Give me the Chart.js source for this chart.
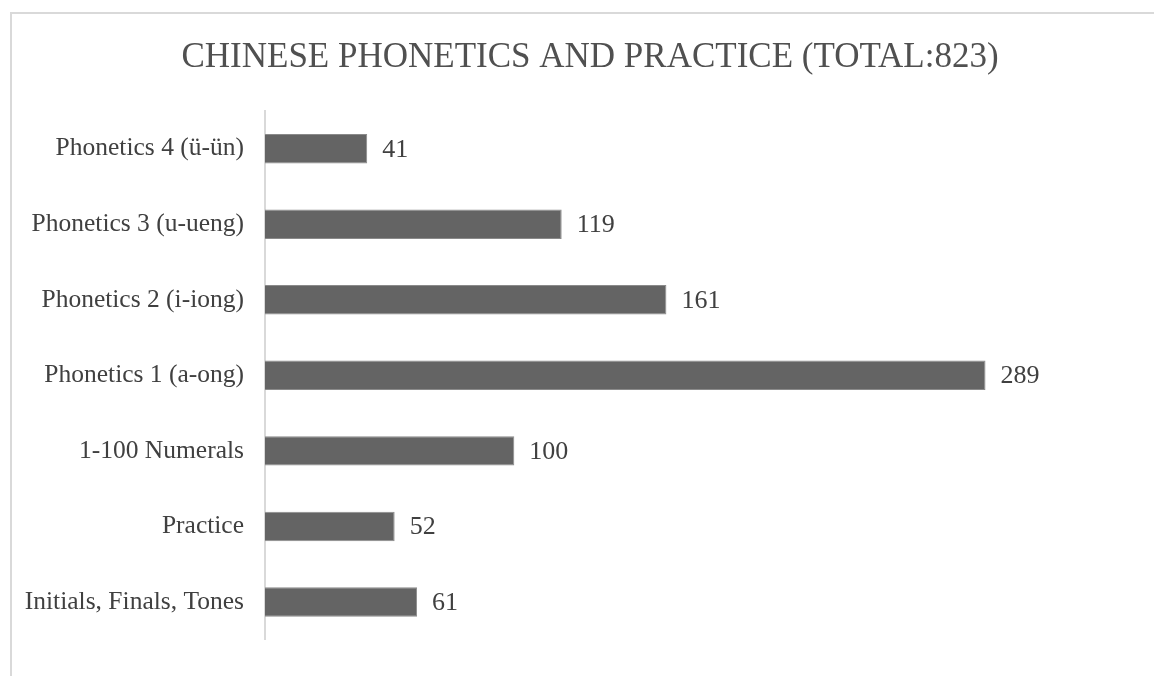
<!DOCTYPE html>
<html>
<head>
<meta charset="utf-8">
<script src="https://cdn.jsdelivr.net/npm/chart.js@4.4.0/dist/chart.umd.min.js"></script>
<style>
    html, body { margin: 0; padding: 0; background: #fff; overflow: hidden; width: 1154px; height: 676px; }
    .frame { position: absolute; left: 10px; top: 12px; width: 1200px; height: 700px;
             border-top: 2px solid #d9d9d9; border-left: 2px solid #d9d9d9; box-sizing: border-box; }
    #js--chart { position: absolute; left: 10px; top: 12px; }
</style>
</head>
<body>
<div class="frame"></div>
<canvas id="js--chart" width="1160" height="664"></canvas>
<script>
const categories = [
    "Phonetics 4 (ü-ün)",
    "Phonetics 3 (u-ueng)",
    "Phonetics 2 (i-iong)",
    "Phonetics 1 (a-ong)",
    "1-100 Numerals",
    "Practice",
    "Initials, Finals, Tones"
];
const counts = [41, 119, 161, 289, 100, 52, 61];
const chartTitle = "CHINESE PHONETICS AND PRACTICE (TOTAL:823)";

// value labels next to each bar
const valueLabels = {
    id: 'valueLabels',
    afterDatasetsDraw(chart) {
        const ctx = chart.ctx;
        const meta = chart.getDatasetMeta(0);
        ctx.save();
        ctx.font = '26px "Liberation Serif"';
        ctx.fillStyle = '#404040';
        ctx.textAlign = 'left';
        ctx.textBaseline = 'middle';
        meta.data.forEach((bar, i) => {
            ctx.fillText(counts[i], bar.x + 15, bar.y + 1);
        });
        ctx.restore();
    }
};

const data = {
    labels: categories,
    datasets: [
        {
            data: counts,
            backgroundColor: '#646464',
            borderColor: '#8a8a8a',
            borderWidth: 1,
            categoryPercentage: 1,
            barPercentage: 0.39
        }
    ]
};

const config = {
    type: 'bar',
    data: data,
    options: {
        indexAxis: 'y',
        responsive: false,
        animation: false,
        layout: { padding: { top: 0, right: 0, bottom: 26, left: 0 } },
        plugins: {
            legend: { display: false },
            tooltip: { enabled: false },
            title: {
                display: true,
                text: chartTitle,
                color: '#505050',
                font: { family: 'Liberation Serif', size: 35, weight: 'normal' },
                padding: { top: 25, bottom: 32 }
            }
        },
        scales: {
            x: { display: false, min: 0, max: 363 },
            y: {
                afterFit(scale) { scale.width = 255; },
                grid: { display: true, color: 'transparent', drawTicks: false },
                border: { display: true, color: '#d9d9d9', width: 2 },
                ticks: {
                    padding: 21,
                    color: '#404040',
                    font: { family: 'Liberation Serif', size: 25.5 }
                }
            }
        }
    },
    plugins: [valueLabels]
};

const myChart = new Chart(document.getElementById("js--chart"), config);
</script>
</body>
</html>
